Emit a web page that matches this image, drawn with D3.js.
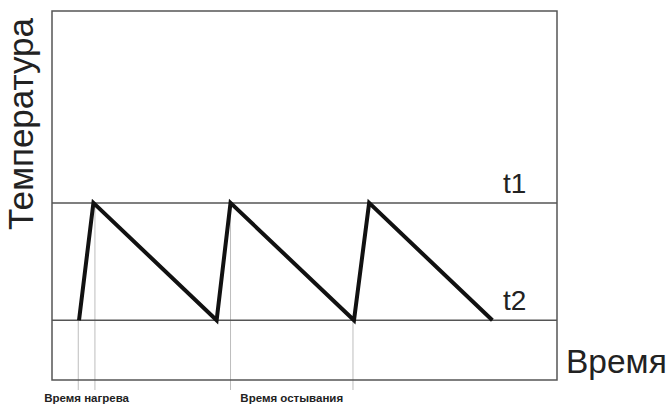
<!DOCTYPE html>
<html>
<head>
<meta charset="utf-8">
<script src="https://cdn.jsdelivr.net/npm/d3@7"></script>
<style>
body { margin: 0; background: #fff; }
text { font-family: "Liberation Sans", Arial, sans-serif; }
</style>
</head>
<body>
<div id="d3-container"></div>
<script>
// time in % of the axis, temperature in % of the axis
const timePoints = [5.35, 8.2, 32.6, 35.35, 59.8, 62.8, 87.2];
const tempPoints = [16.2, 48, 16.2, 48, 16.2, 48, 16.2];
const levels = [{ name: "t1", value: 48 }, { name: "t2", value: 16.2 }];
const markTimes = [5.2, 8.5, 35.35, 59.6];
const markTemps = [16.2, 48, 48, 16.2];
const spanLabels = [{ text: "Время нагрева", from: 5.2, to: 8.5 }, { text: "Время остывания", from: 35.35, to: 59.6 }];
const xTitle = "Время", yTitle = "Температура";

const width = 670, height = 405;
const frame = { left: 52, right: 557, top: 11, bottom: 380 };

const svg = d3.select("#d3-container").append("svg")
	.attr("width", width)
	.attr("height", height)
	.style("background", "#fff");

const x = d3.scaleLinear().domain([0, 100]).range([frame.left, frame.right]);
const y = d3.scaleLinear().domain([0, 100]).range([frame.bottom, frame.top]);

// guide lines down to the labels
svg.selectAll(".mark")
	.data(markTimes)
	.enter().append("line")
	.attr("class", "mark")
	.attr("x1", d => x(d)).attr("x2", d => x(d))
	.attr("y1", (d, i) => y(markTemps[i])).attr("y2", 390)
	.attr("stroke", "#bdbdbd")
	.attr("stroke-width", 1);

// frame
svg.append("rect")
	.attr("x", frame.left).attr("y", frame.top)
	.attr("width", frame.right - frame.left).attr("height", frame.bottom - frame.top)
	.attr("fill", "none")
	.attr("stroke", "#555")
	.attr("stroke-width", 1.5);

// t1 / t2 levels
svg.selectAll(".level")
	.data(levels)
	.enter().append("line")
	.attr("class", "level")
	.attr("x1", frame.left).attr("x2", frame.right)
	.attr("y1", d => y(d.value)).attr("y2", d => y(d.value))
	.attr("stroke", "#555")
	.attr("stroke-width", 1.5);
svg.selectAll(".level-label")
	.data(levels)
	.enter().append("text")
	.attr("class", "level-label")
	.attr("x", 503)
	.attr("y", d => y(d.value) - 10)
	.attr("font-size", 28)
	.attr("fill", "#222")
	.text(d => d.name);

// sawtooth
const line = d3.line().x(d => x(d[0])).y(d => y(d[1]));
svg.append("path")
	.datum(timePoints.map((t, i) => [t, tempPoints[i]]))
	.attr("d", line)
	.attr("fill", "none")
	.attr("stroke", "#111")
	.attr("stroke-width", 4)
	.attr("stroke-linejoin", "miter");

// span labels
svg.selectAll(".span-label")
	.data(spanLabels)
	.enter().append("text")
	.attr("class", "span-label")
	.attr("x", d => (x(d.from) + x(d.to)) / 2)
	.attr("y", 402)
	.attr("text-anchor", "middle")
	.attr("font-size", 11.5)
	.attr("font-weight", "bold")
	.attr("fill", "#222")
	.text(d => d.text);

// axis titles
svg.append("text")
	.attr("x", 566).attr("y", 373)
	.attr("font-size", 33.5)
	.attr("fill", "#222")
	.text(xTitle);
svg.append("text")
	.attr("transform", "translate(33,230) rotate(-90)")
	.attr("font-size", 35)
	.attr("fill", "#222")
	.text(yTitle);
</script>
</body>
</html>
